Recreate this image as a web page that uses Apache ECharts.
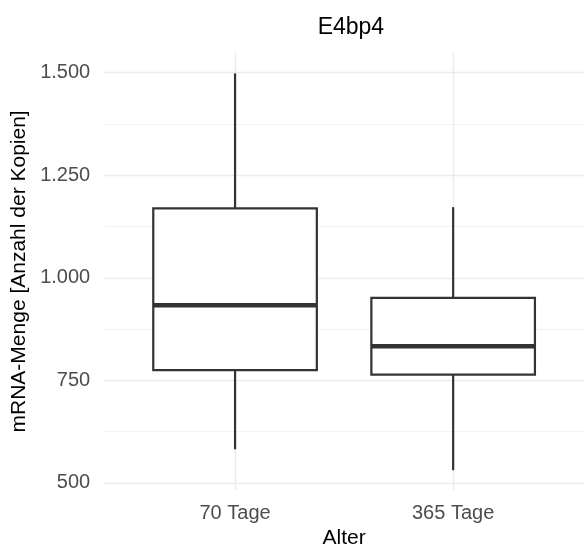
<!DOCTYPE html>
<html>
<head>
<meta charset="utf-8">
<script src="https://cdn.jsdelivr.net/npm/echarts@6/dist/echarts.min.js"></script>
<style>
  html, body { margin: 0; padding: 0; background: #ffffff; }
  #chart { width: 584px; height: 554px; }
</style>
</head>
<body>
<div id="chart"></div>
<script>
// Groups on the x axis
const categories = ['70 Tage', '365 Tage'];

// Box statistics per group (mRNA copy numbers)
const whiskerLow = [582, 531];
const quartile1 = [775, 764];
const medians = [933, 833];
const quartile3 = [1169, 951];
const whiskerHigh = [1498, 1172];

// Y axis ticks and their German-formatted labels
const yMajorTicks = [500, 750, 1000, 1250, 1500];
const yMajorLabels = ['500', '750', '1.000', '1.250', '1.500'];
const yMinorTicks = [625, 875, 1125, 1375];

const FONT = '"Liberation Sans", Arial, sans-serif';
const LINE = '#333333';
const GRID_MAJOR = '#EBEBEB';
const GRID_MINOR = '#F2F2F2';

const catPositions = categories.map((_, i) => i + 1);
const boxData = categories.map((_, i) => [
  catPositions[i], whiskerLow[i], quartile1[i], medians[i], quartile3[i], whiskerHigh[i]
]);

const chart = echarts.init(document.getElementById('chart'), null, { renderer: 'canvas' });

chart.setOption({
  backgroundColor: '#ffffff',
  animation: false,
  title: {
    text: 'E4bp4',
    left: 345.9,
    top: 11,
    textAlign: 'center',
    textStyle: { fontFamily: FONT, fontSize: 23, fontWeight: 'normal', color: '#000000' }
  },
  grid: { left: 104.2, top: 52.7, width: 483.3, height: 440.2, containLabel: false },
  xAxis: {
    type: 'value',
    min: 0.4,
    max: 2.6,
    name: 'Alter',
    nameLocation: 'middle',
    nameGap: 33,
    nameTextStyle: { fontFamily: FONT, fontSize: 21, color: '#000000' },
    axisLine: { show: false },
    axisTick: { show: false, customValues: catPositions },
    axisLabel: {
      customValues: catPositions,
      formatter: v => categories[Math.round(v) - 1],
      fontFamily: FONT, fontSize: 20, color: '#4D4D4D', margin: 13
    },
    splitLine: { show: true, lineStyle: { color: GRID_MAJOR, width: 1.4 } }
  },
  yAxis: [
    {
      type: 'value',
      min: 482.5,
      max: 1548.5,
      name: 'mRNA-Menge [Anzahl der Kopien]',
      nameLocation: 'middle',
      nameGap: 74,
      nameTextStyle: { fontFamily: FONT, fontSize: 21, color: '#000000' },
      axisLine: { show: false },
      axisTick: { show: false, customValues: yMajorTicks },
      axisLabel: {
        customValues: yMajorTicks,
        formatter: v => yMajorLabels[yMajorTicks.indexOf(Math.round(v))],
        fontFamily: FONT, fontSize: 20, color: '#4D4D4D', margin: 14
      },
      splitLine: { show: true, lineStyle: { color: GRID_MAJOR, width: 1.4 } }
    },
    {
      type: 'value',
      min: 482.5,
      max: 1548.5,
      position: 'left',
      axisLine: { show: false },
      axisTick: { show: false, customValues: yMinorTicks },
      axisLabel: { show: false, customValues: yMinorTicks },
      splitLine: { show: true, lineStyle: { color: GRID_MINOR, width: 1 } }
    }
  ],
  series: [{
    type: 'custom',
    xAxisIndex: 0,
    yAxisIndex: 0,
    data: boxData,
    encode: { x: 0, y: [1, 2, 3, 4, 5] },
    z: 10,
    renderItem: function (params, api) {
      const x = api.value(0);
      const lo = api.coord([x, api.value(1)]);
      const q1 = api.coord([x, api.value(2)]);
      const md = api.coord([x, api.value(3)]);
      const q3 = api.coord([x, api.value(4)]);
      const hi = api.coord([x, api.value(5)]);
      const half = api.size([0.75, 0])[0] / 2;
      return {
        type: 'group',
        children: [
          { type: 'line', shape: { x1: lo[0], y1: lo[1], x2: q1[0], y2: q1[1] },
            style: { stroke: LINE, lineWidth: 2.2 } },
          { type: 'line', shape: { x1: q3[0], y1: q3[1], x2: hi[0], y2: hi[1] },
            style: { stroke: LINE, lineWidth: 2.2 } },
          { type: 'rect', shape: { x: q3[0] - half, y: q3[1], width: half * 2, height: q1[1] - q3[1] },
            style: { fill: '#ffffff', stroke: LINE, lineWidth: 2.2 } },
          { type: 'line', shape: { x1: md[0] - half, y1: md[1], x2: md[0] + half, y2: md[1] },
            style: { stroke: LINE, lineWidth: 4.4 } }
        ]
      };
    }
  }]
});
</script>
</body>
</html>
